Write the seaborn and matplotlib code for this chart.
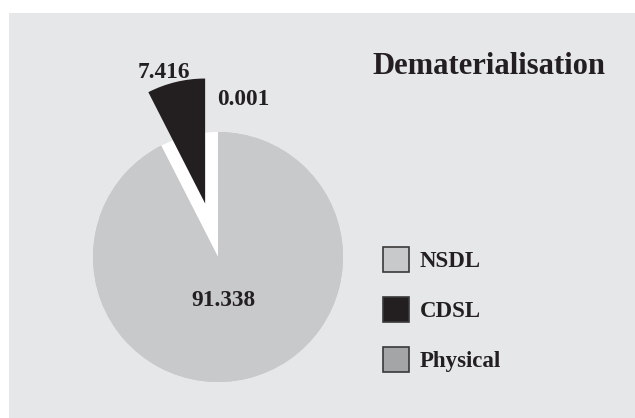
import matplotlib
matplotlib.use('Agg')
import matplotlib.pyplot as plt
import seaborn as sns
import numpy as np
from matplotlib.patches import Rectangle, Patch

# data
categories = ['NSDL', 'CDSL', 'Physical']
shares = [91.338, 7.416, 0.001]
value_labels = ['91.338', '7.416', '0.001']

colors = ['#C8C9CB', '#231F20', '#A4A5A7']
bg = '#E6E7E9'

sns.set_theme(style='white')
plt.rcParams['font.family'] = ['Liberation Serif', 'DejaVu Serif']
plt.rcParams['font.weight'] = 'bold'

fig = plt.figure(figsize=(6.35, 4.18), dpi=100)
fig.patch.set_facecolor('white')
# grey panel
fig.add_artist(Rectangle((9 / 635, 0), 1, (418 - 13) / 418, transform=fig.transFigure,
                         facecolor=bg, edgecolor='none', zorder=0))

ax = fig.add_axes([55.5 / 635, 23.5 / 418, 325 / 635, 337.5 / 418])
ax.set_facecolor('none')

# white hole left behind by the exploded slice
ax.pie(shares, colors=[colors[0], 'white', 'white'], startangle=90, counterclock=False,
       wedgeprops=dict(linewidth=0))
# actual pie
wedges, _ = ax.pie(shares, colors=colors, startangle=90, counterclock=False,
                   explode=[0, 0.44, 0], wedgeprops=dict(linewidth=0))
ax.set_xlim(-1.3, 1.3)
ax.set_ylim(-1.1, 1.6)
ax.axis('off')

# value labels
txt = dict(fontsize=16.8, fontweight='bold', color='#231F20', ha='center', va='center')
ax.text(0.04, -0.35, value_labels[0], **txt)
ax.text(-0.43, 1.48, value_labels[1], **txt)
ax.text(0.20, 1.26, value_labels[2], **txt)

fig.text(489 / 635, 1 - 67 / 418, 'Dematerialisation', fontsize=22, fontweight='bold',
         color='#231F20', ha='center', va='center')

handles = [Patch(facecolor=c, edgecolor='#3A3A3A', linewidth=1.2) for c in colors]
fig.legend(handles, categories, loc='upper left', bbox_to_anchor=(383 / 635, 1 - 247 / 418),
           frameon=False, fontsize=16.5, handlelength=1.15, handleheight=1.3,
           labelspacing=1.08, handletextpad=0.45, borderpad=0, borderaxespad=0,
           labelcolor='#231F20')

fig.savefig('out.png', dpi=100, facecolor='white')
